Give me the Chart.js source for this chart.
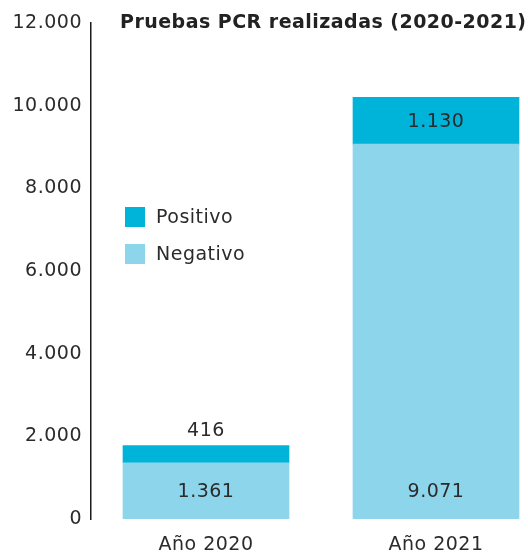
<!DOCTYPE html>
<html>
<head>
    <title>Pruebas PCR</title>
    <script src="https://cdn.jsdelivr.net/npm/chart.js@4"></script>
    <style>
        html, body { margin: 0; background: #fff; overflow: hidden; }
        #wrap { width: 551px; height: 556px; }
    </style>
</head>
<body>
    <div id="wrap"><canvas id="myChart"></canvas></div>
    <script type="text/javascript">
        const categories = ['Año 2020', 'Año 2021'];
        const negativo = [1361, 9071];
        const positivo = [416, 1130];
        const yTicks = [0, 2000, 4000, 6000, 8000, 10000, 12000];
        const title = 'Pruebas PCR realizadas (2020-2021)';

        const FONT = "'DejaVu Sans', sans-serif";
        const TXT = '#2b2b2b';
        const SPACING = '0.5px';
        const fmt = v => v.toLocaleString('de-DE');

        const extras = {
            id: 'extras',
            beforeDraw(chart) {
                chart.ctx.letterSpacing = SPACING;
            },
            afterDatasetsDraw(chart) {
                const ctx = chart.ctx;
                ctx.save();
                ctx.letterSpacing = SPACING;
                ctx.fillStyle = TXT;
                ctx.textAlign = 'center';
                ctx.textBaseline = 'middle';
                ctx.font = '19px ' + FONT;
                const neg = chart.getDatasetMeta(0).data;
                const pos = chart.getDatasetMeta(1).data;
                neg.forEach((bar, i) => {
                    ctx.fillText(fmt(negativo[i]), bar.x, bar.base - 27);
                });
                pos.forEach((bar, i) => {
                    const h = bar.base - bar.y;
                    if (h > 30) ctx.fillText(fmt(positivo[i]), bar.x, (bar.y + bar.base) / 2 + 1);
                    else ctx.fillText(fmt(positivo[i]), bar.x, bar.y - 14);
                });
                // legend
                const items = [['Positivo', '#00b4d9'], ['Negativo', '#8dd5ea']];
                ctx.textAlign = 'left';
                items.forEach((it, k) => {
                    const y = 217 + k * 37;
                    ctx.fillStyle = it[1];
                    ctx.fillRect(125, y - 10, 20, 20);
                    ctx.fillStyle = TXT;
                    ctx.fillText(it[0], 156, y + 1);
                });
                // title
                ctx.font = 'bold 19px ' + FONT;
                ctx.fillStyle = '#222';
                ctx.letterSpacing = '0px';
                const w = ctx.measureText(title).width;
                ctx.letterSpacing = Math.max(0, (406 - w) / (title.length - 1)) + 'px';
                ctx.fillText(title, 120, 23);
                ctx.restore();
            }
        };

        new Chart(document.getElementById('myChart'), {
            type: 'bar',
            data: {
                labels: categories,
                datasets: [{
                    label: 'Negativo',
                    data: negativo,
                    backgroundColor: '#8dd5ea',
                    barThickness: 166
                }, {
                    label: 'Positivo',
                    data: positivo,
                    backgroundColor: '#00b4d9',
                    barThickness: 166
                }]
            },
            options: {
                responsive: true,
                maintainAspectRatio: false,
                animation: false,
                layout: { padding: { top: 23, right: 0, left: 0, bottom: 0 } },
                plugins: { legend: { display: false }, tooltip: { enabled: false } },
                scales: {
                    x: {
                        stacked: true,
                        offset: true,
                        grid: { display: false, drawTicks: false },
                        border: { display: false },
                        afterFit: s => { s.height = 37; },
                        ticks: {
                            padding: 15,
                            color: TXT,
                            maxRotation: 0,
                            font: { family: FONT, size: 19 }
                        }
                    },
                    y: {
                        stacked: true,
                        min: 0,
                        max: 12000,
                        grid: { display: false, drawTicks: false },
                        border: { display: true, color: '#1a1a1a', width: 1.5 },
                        afterBuildTicks: s => { s.ticks = yTicks.map(v => ({ value: v })); },
                        afterFit: s => { s.width = 91; },
                        ticks: {
                            padding: 9,
                            color: TXT,
                            font: { family: FONT, size: 19 },
                            callback: v => fmt(v)
                        }
                    }
                }
            },
            plugins: [extras]
        });
    </script>
</body>
</html>
